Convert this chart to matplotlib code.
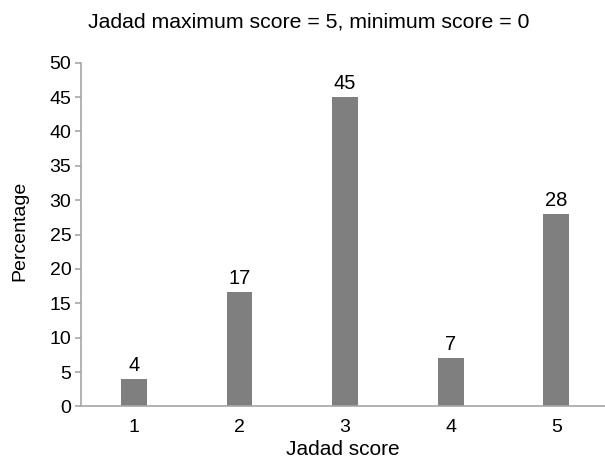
import matplotlib
matplotlib.use("Agg")
import matplotlib.pyplot as plt

plt.rcParams['font.family'] = ['Liberation Sans', 'DejaVu Sans']

scores = [1, 2, 3, 4, 5]
percentages = [4, 16.7, 45, 7, 28]
bar_labels = ["4", "17", "45", "7", "28"]

fig = plt.figure(figsize=(6.05, 4.59), dpi=100)
ax = fig.add_axes([0.1339, 0.1144, 0.8661, 0.749])

ax.bar(scores, percentages, width=0.245, color='#7f7f7f')
for x, y, lab in zip(scores, percentages, bar_labels):
    ax.text(x, y + 0.6, lab, ha='center', va='bottom', fontsize=14.5)

ax.set_xlim(0.5, 5.46)
ax.set_ylim(0, 50)
ax.set_yticks(range(0, 51, 5))
ax.set_xticks(scores)

for s in ['top', 'right']:
    ax.spines[s].set_visible(False)
for s in ['left', 'bottom']:
    ax.spines[s].set_color('#a6a6a6')
    ax.spines[s].set_linewidth(1.2)
ax.tick_params(axis='y', colors='#a6a6a6', labelcolor='black', labelsize=14, length=4, width=1.2, pad=3)
ax.tick_params(axis='x', length=0, labelsize=14, pad=9)

ax.set_xlabel('Jadad score', fontsize=15, labelpad=3)
ax.set_ylabel('Percentage', fontsize=14)
ax.yaxis.set_label_coords(-0.1, 0.51)
fig.text(0.51, 0.952, 'Jadad maximum score = 5, minimum score = 0', ha='center', va='center', fontsize=15.3)

fig.savefig('out.png', dpi=100)
